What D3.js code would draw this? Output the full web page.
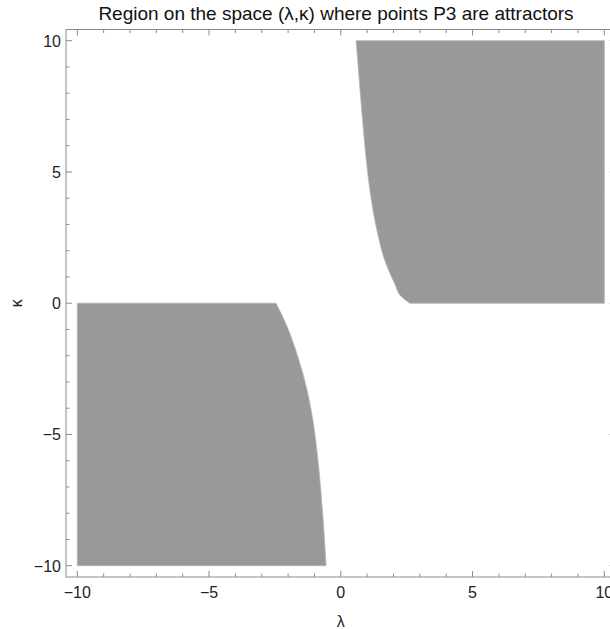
<!DOCTYPE html>
<html lang="en">
<head>
    <meta charset="UTF-8">
    <title>Region P3 attractors</title>
    <script src="https://d3js.org/d3.v7.min.js"></script>
    <style>
        body { margin: 0; background: #fff; }
        svg { display: block; font-family: "Liberation Sans", Arial, sans-serif; }
        .tick-label { font-size: 16px; fill: #222; }
    </style>
</head>
<body>
    <div id="chart"></div>

    <script>
        // boundary of the upper region (lambda at each kappa)
        const upperKappa  = [10, 9.14, 7.87, 6.6, 5.33, 4.06, 2.79, 1.52, 0.76, 0.25, 0];
        const upperLambda = [0.58, 0.65, 0.75, 0.86, 0.98, 1.14, 1.37, 1.71, 2.04, 2.30, 2.62];

        // boundary of the lower region
        const lowerKappa  = [0, -0.77, -2.04, -3.31, -4.58, -5.85, -7.12, -8.39, -10];
        const lowerLambda = [-2.46, -2.09, -1.63, -1.28, -1.04, -0.88, -0.76, -0.66, -0.56];

        const majorTicks = [-10, -5, 0, 5, 10];
        const minorTicks = d3.range(-10, 10.5, 1).filter(v => v % 5 !== 0);

        const width = 610, height = 629;
        const frame = { left: 66, right: 615.6, top: 29.5, bottom: 577 };

        const x = d3.scaleLinear().domain([-10, 10]).range([77.3, 604.3]);
        const y = d3.scaleLinear().domain([-10, 10]).range([565.7, 40.7]);

        const svg = d3.select("#chart").append("svg")
                      .attr("width", width)
                      .attr("height", height);

        const upper = upperKappa.map((k, i) => ({ k: k, l: upperLambda[i] }));
        const lower = lowerKappa.map((k, i) => ({ k: k, l: lowerLambda[i] }));

        const areaUpper = d3.area()
            .y(d => y(d.k))
            .x0(d => x(d.l))
            .x1(x(10))
            .curve(d3.curveMonotoneY);

        const areaLower = d3.area()
            .y(d => y(d.k))
            .x0(x(-10))
            .x1(d => x(d.l))
            .curve(d3.curveMonotoneY);

        svg.append("path").datum(upper)
           .attr("d", areaUpper)
           .attr("fill", "#999999")
           .attr("stroke", "#b4b4b4")
           .attr("stroke-width", 0.8);

        svg.append("path").datum(lower)
           .attr("d", areaLower)
           .attr("fill", "#999999")
           .attr("stroke", "#b4b4b4")
           .attr("stroke-width", 0.8);

        // frame
        const frameColor = "#8a8a8a";
        svg.append("rect")
           .attr("x", frame.left)
           .attr("y", frame.top)
           .attr("width", frame.right - frame.left)
           .attr("height", frame.bottom - frame.top)
           .attr("fill", "none")
           .attr("stroke", frameColor)
           .attr("stroke-width", 1);

        const ticks = majorTicks.map(v => ({ v: v, len: 6 }))
                      .concat(minorTicks.map(v => ({ v: v, len: 3.5 })));

        const tickG = svg.append("g").attr("stroke", frameColor).attr("stroke-width", 1);
        ticks.forEach(t => {
            const px = x(t.v), py = y(t.v);
            tickG.append("line").attr("x1", px).attr("x2", px).attr("y1", frame.bottom).attr("y2", frame.bottom - t.len);
            tickG.append("line").attr("x1", px).attr("x2", px).attr("y1", frame.top).attr("y2", frame.top + t.len);
            tickG.append("line").attr("y1", py).attr("y2", py).attr("x1", frame.left).attr("x2", frame.left + t.len);
            tickG.append("line").attr("y1", py).attr("y2", py).attr("x1", frame.right).attr("x2", frame.right - t.len);
        });

        const fmt = v => (v < 0 ? "\u2212" + Math.abs(v) : String(v));

        svg.selectAll(".xlab").data(majorTicks).enter().append("text")
           .attr("class", "tick-label")
           .attr("x", d => x(d))
           .attr("y", 598)
           .attr("text-anchor", "middle")
           .text(fmt);

        svg.selectAll(".ylab").data(majorTicks).enter().append("text")
           .attr("class", "tick-label")
           .attr("x", 61)
           .attr("y", d => y(d) + 6)
           .attr("text-anchor", "end")
           .text(fmt);

        svg.append("text")
           .attr("x", 336)
           .attr("y", 20)
           .attr("text-anchor", "middle")
           .attr("font-size", 19)
           .attr("fill", "#111")
           .text("Region on the space (\u03BB,\u03BA) where points P3 are attractors");

        svg.append("text")
           .attr("x", x(0))
           .attr("y", 627)
           .attr("text-anchor", "middle")
           .attr("font-size", 16)
           .attr("fill", "#222")
           .text("\u03BB");

        svg.append("text")
           .attr("transform", "translate(22," + y(0) + ") rotate(-90)")
           .attr("text-anchor", "middle")
           .attr("font-size", 16)
           .attr("fill", "#222")
           .text("\u03BA");
    </script>
</body>
</html>
